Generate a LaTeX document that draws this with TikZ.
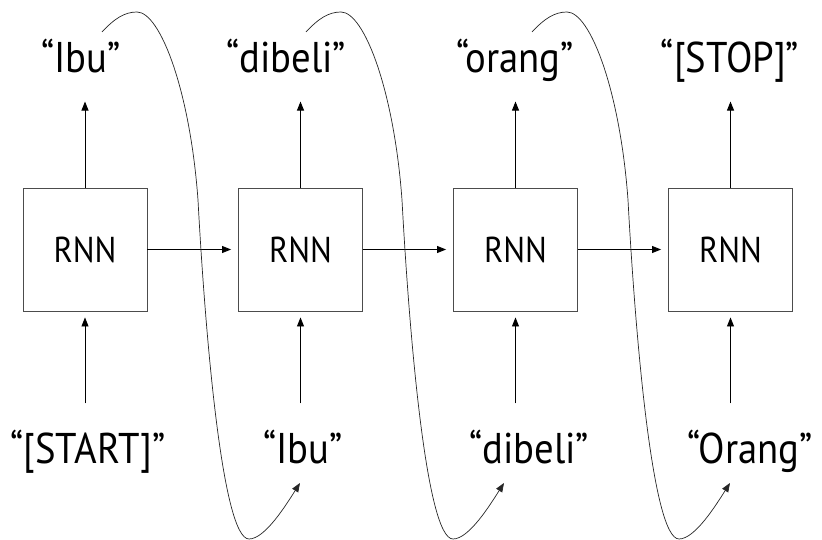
\documentclass[tikz,border=0pt]{standalone}
\usepackage{fontspec}
\setmainfont{PT Sans}[FakeStretch=0.9]
\usetikzlibrary{arrows.meta,calc}

\tikzset{
  cell/.style={draw=black!70, line width=0.9pt, minimum width=124pt, minimum height=123pt,
               inner sep=0pt, font=\fontsize{36}{36}\selectfont},
  word/.style={anchor=base, inner sep=0pt, font=\fontsize{43}{43}\selectfont},
  flow/.style={line width=0.9pt, -{Triangle[length=9pt,width=7pt]}},
  feed/.style={line width=0.7pt, black!85, -{Triangle[length=9pt,width=7pt]}},
}

\begin{document}
\begin{tikzpicture}[x=1pt,y=-1pt]
\useasboundingbox (0,0) rectangle (822,540);

% RNN cells
\node[cell] (b1) at (85,249.5)  {RNN};
\node[cell] (b2) at (300.5,249.5) {RNN};
\node[cell] (b3) at (515.5,249.5) {RNN};
\node[cell] (b4) at (730.5,249.5) {RNN};

% outputs
\node[word] (o1) at (81,73)  {“Ibu”};
\node[word] (o2) at (286,73) {“dibeli”};
\node[word] (o3) at (515,73) {“orang”};
\node[word] (o4) at (730,73) {“[STOP]”};

% inputs
\node[word] (i1) at (88,463)  {“[START]”};
\node[word] (i2) at (303,463) {“Ibu”};
\node[word] (i3) at (529,463) {“dibeli”};
\node[word] (i4) at (750,463) {“Orang”};

% hidden state
\draw[flow, shorten >=7pt] (b1) -- (b2);
\draw[flow, shorten >=7pt] (b2) -- (b3);
\draw[flow, shorten >=7pt] (b3) -- (b4);

% output and input arrows
\foreach \k in {1,2,3,4}{
  \draw[flow] (b\k.north) -- ++(0,-86);
  \draw[flow] ($(b\k.south)+(0,92)$) -- ($(b\k.south)+(0,6)$);
}

% feeding each output back in as the next input
\foreach \s/\k in {0/1,204/2,430/3}{
  \begin{scope}[xshift=\s pt]
    \coordinate (fs\k) at (102,32);
    \coordinate (fe\k) at (300,483);
    \draw[feed] (fs\k) .. controls (115,18) and (125,12) .. (137,12)
      .. controls (160,12) and (190,90) .. (198,200)
      .. controls (205,330) and (222,539) .. (249,539)
      .. controls (265,539) and (286,505) .. (fe\k);
  \end{scope}
}
\end{tikzpicture}
\end{document}
